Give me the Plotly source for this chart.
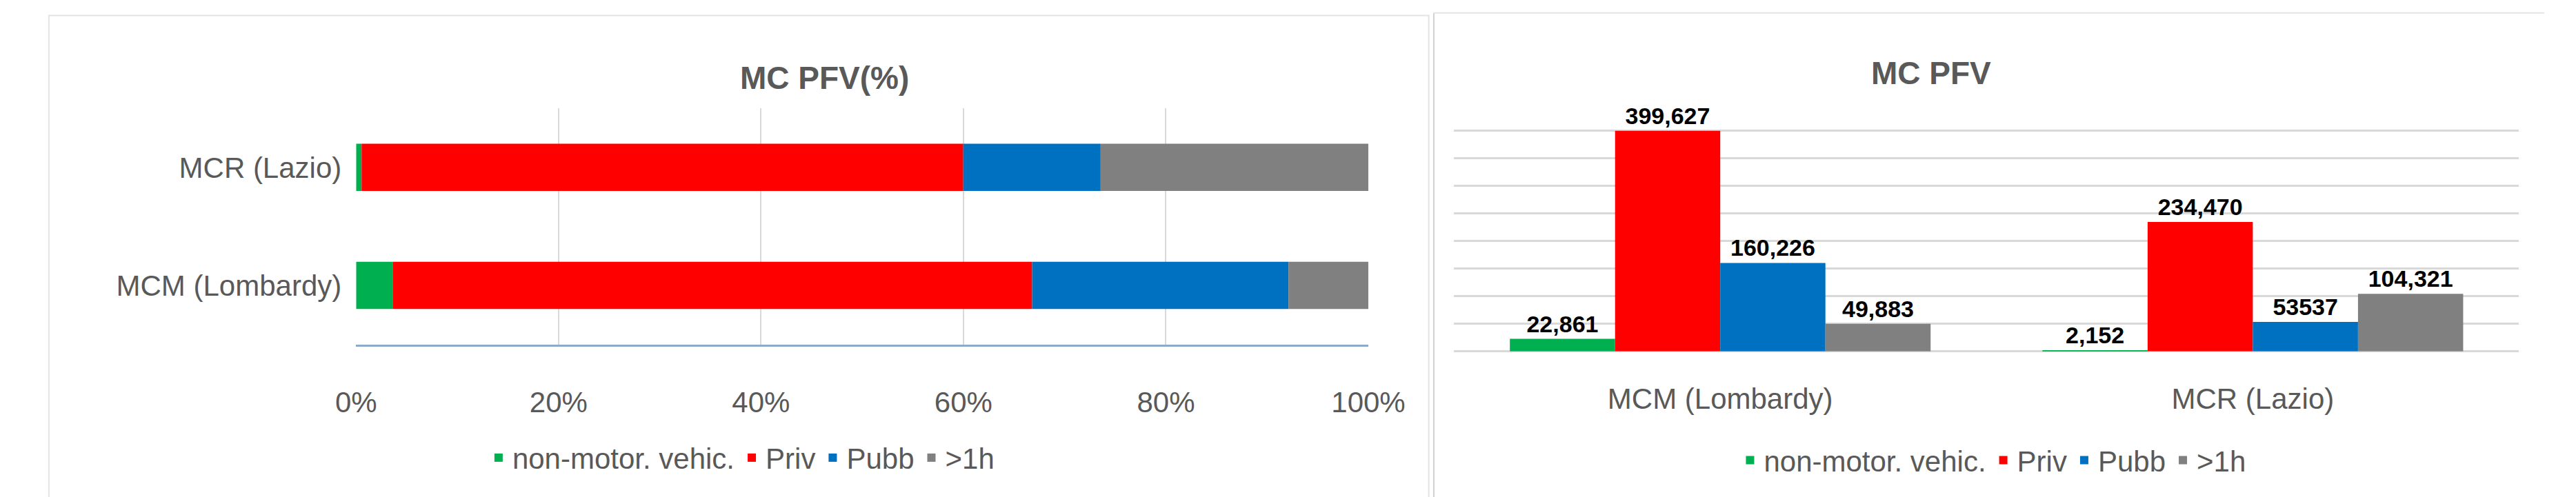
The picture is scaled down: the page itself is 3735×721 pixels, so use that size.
import plotly.graph_objects as go

regions = ["MCM (Lombardy)", "MCR (Lazio)"]
series = ["non-motor. vehic.", "Priv", "Pubb", ">1h"]
values = {
    "non-motor. vehic.": [22861, 2152],
    "Priv": [399627, 234470],
    "Pubb": [160226, 53537],
    ">1h": [49883, 104321],
}
labels = {
    "non-motor. vehic.": ["22,861", "2,152"],
    "Priv": ["399,627", "234,470"],
    "Pubb": ["160,226", "53537"],
    ">1h": ["49,883", "104,321"],
}
colors = ["#00b050", "#ff0000", "#0070c0", "#808080"]
pct_ticks = [0, 20, 40, 60, 80, 100]

FONT = "Liberation Sans Narrow, Liberation Sans, sans-serif"
totals = [sum(values[s][i] for s in series) for i in range(len(regions))]
fig = go.Figure()
cum = [0.0] * len(regions)
for s, c in zip(series, colors):
    pct = [100 * values[s][i] / totals[i] for i in range(len(regions))]
    fig.add_trace(go.Bar(y=regions, x=pct, base=list(cum), orientation="h", name=s,
                         offsetgroup="L", width=0.4,
                         marker=dict(color=c, line=dict(width=0)),
                         xaxis="x", yaxis="y", legend="legend"))
    cum = [cum[i] + pct[i] for i in range(len(regions))]
for k, (s, c) in enumerate(zip(series, colors)):
    fig.add_trace(go.Bar(x=regions, y=values[s], name=s, text=labels[s],
                         textposition="outside", cliponaxis=False, offsetgroup=f"R{k}",
                         textfont=dict(size=34, color="black", family=FONT, weight="bold"),
                         marker=dict(color=c, line=dict(width=0)),
                         xaxis="x2", yaxis="y2", legend="legend2"))

fig.update_layout(
    width=3735, height=721, margin=dict(l=0, r=0, t=0, b=0),
    paper_bgcolor="white", plot_bgcolor="white",
    font=dict(family=FONT, size=42, color="#595959"),
    barmode="group", bargap=0.21, bargroupgap=0,
    xaxis=dict(domain=[0.131, 0.533], range=[0, 100], tickvals=pct_ticks,
               ticktext=[f"{v}%" for v in pct_ticks], showgrid=True,
               gridcolor="#d9d9d9", gridwidth=2, showline=True, linecolor="#8eaacb",
               linewidth=3, zeroline=False, ticks="", ticklabelstandoff=45),
    yaxis=dict(domain=[0.318, 0.793], anchor="x", range=[-0.5, 1.5], showgrid=False,
               ticks="", ticklabelstandoff=20),
    xaxis2=dict(domain=[0.567, 0.990], anchor="y2", showgrid=False, ticks="",
                ticklabelstandoff=40, showline=False),
    yaxis2=dict(domain=[0.304, 0.804], anchor="x2", range=[0, 450000], dtick=50000,
                showticklabels=False, showgrid=True, gridcolor="#d9d9d9", gridwidth=3,
                zeroline=True, zerolinecolor="#d9d9d9", zerolinewidth=3),
    legend=dict(orientation="h", x=0.284, xanchor="center", y=0.09, yanchor="middle",
                traceorder="normal", font=dict(size=42, color="#595959")),
    legend2=dict(orientation="h", x=0.781, xanchor="center", y=0.085, yanchor="middle",
                 traceorder="normal", font=dict(size=42, color="#595959")),
    annotations=[
        dict(text="<b>MC PFV(%)</b>", x=0.283, y=1 - 77 / 721, xref="paper", yref="paper",
             showarrow=False, font=dict(size=46, color="#595959")),
        dict(text="<b>MC PFV</b>", x=0.781, y=1 - 70 / 721, xref="paper", yref="paper",
             showarrow=False, font=dict(size=46, color="#595959")),
    ],
    shapes=[
        dict(type="rect", xref="paper", yref="paper", x0=0.009, x1=0.557,
             y0=0.005, y1=0.98, line=dict(color="#e3e3e3", width=2)),
        dict(type="line", xref="paper", yref="paper", x0=0.559, x1=0.559,
             y0=0.005, y1=0.985, line=dict(color="#d0d0d0", width=2)),
        dict(type="line", xref="paper", yref="paper", x0=0.559, x1=1.0,
             y0=0.985, y1=0.985, line=dict(color="#e3e3e3", width=2)),
    ],
)
fig.write_html("out.html")
